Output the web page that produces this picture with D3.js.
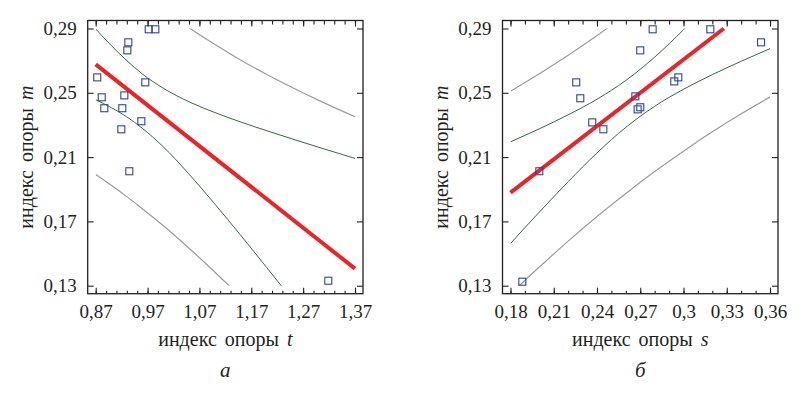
<!DOCTYPE html>
<html>
<head>
<meta charset="utf-8">
<script src="https://cdn.jsdelivr.net/npm/d3@7"></script>
<style>
  body { margin: 0; background: #fff; }
  svg { display: block; }
</style>
</head>
<body>
<div id="chart"></div>
<script>
// ---- data: panel "а" (index t vs index m) ----
const pointsT = [0.873, 0.8816, 0.8866, 0.9194, 0.9213, 0.9252, 0.931, 0.9329, 0.9348, 0.958, 0.9656, 0.9722, 0.985, 1.3185];
const pointsTM = [0.2596, 0.2472, 0.2404, 0.2273, 0.2404, 0.2484, 0.2764, 0.2814, 0.2012, 0.2323, 0.2565, 0.2895, 0.2895, 0.1331];
const fitT = [0.87, 1.37];
const fitTM = [0.2677, 0.1406];
const bandT = [0.87, 0.90, 0.93, 0.96, 1.00, 1.05, 1.10, 1.15, 1.20, 1.25, 1.30, 1.37];
const confUpperT = [0.2897, 0.2794, 0.2700, 0.2617, 0.2529, 0.2444, 0.2377, 0.2318, 0.2264, 0.2212, 0.2161, 0.2092];
const confLowerT = [0.2457, 0.2408, 0.2350, 0.2279, 0.2165, 0.1994, 0.1807, 0.1612, 0.1412, 0.1210, 0.1007, 0.0720];
const predUpperT = [0.3361, 0.3277, 0.3196, 0.3117, 0.3020, 0.2905, 0.2800, 0.2703, 0.2614, 0.2531, 0.2453, 0.2351];
const predLowerT = [0.1993, 0.1925, 0.1854, 0.1779, 0.1674, 0.1533, 0.1384, 0.1227, 0.1062, 0.0891, 0.0715, 0.0461];
const ticksT = [0.87, 0.97, 1.07, 1.17, 1.27, 1.37];
const tickLabelsT = ["0,87", "0,97", "1,07", "1,17", "1,27", "1,37"];

// ---- data: panel "б" (index s vs index m) ----
const pointsS = [0.1882, 0.2000, 0.2256, 0.2284, 0.2367, 0.2444, 0.2666, 0.2682, 0.2700, 0.2700, 0.2786, 0.2936, 0.2964, 0.3186, 0.3538];
const pointsSM = [0.1325, 0.2012, 0.2565, 0.2466, 0.2316, 0.2273, 0.2478, 0.2397, 0.2410, 0.2764, 0.2895, 0.2571, 0.2596, 0.2895, 0.2814];
const fitS = [0.18, 0.328];
const fitSM = [0.1879, 0.29];
const bandS = [0.18, 0.20, 0.22, 0.24, 0.26, 0.28, 0.30, 0.32, 0.34, 0.36];
const confUpperS = [0.2195, 0.2276, 0.2363, 0.2460, 0.2577, 0.2722, 0.2892, 0.3077, 0.3270, 0.3467];
const confLowerS = [0.1563, 0.1758, 0.1947, 0.2126, 0.2285, 0.2416, 0.2522, 0.2613, 0.2696, 0.2775];
const predUpperS = [0.2509, 0.2618, 0.2733, 0.2856, 0.2988, 0.3128, 0.3277, 0.3433, 0.3597, 0.3768];
const predLowerS = [0.1249, 0.1416, 0.1577, 0.1730, 0.1874, 0.2010, 0.2137, 0.2257, 0.2369, 0.2474];
const ticksS = [0.18, 0.21, 0.24, 0.27, 0.30, 0.33, 0.36];
const tickLabelsS = ["0,18", "0,21", "0,24", "0,27", "0,3", "0,33", "0,36"];

// ---- shared y axis ----
const ticksM = [0.13, 0.17, 0.21, 0.25, 0.29];
const tickLabelsM = ["0,13", "0,17", "0,21", "0,25", "0,29"];

const width = 801, height = 397;
const textColor = "#231f20";
const serif = "Liberation Serif";

const svg = d3.select("#chart")
  .append("svg")
    .attr("width", width)
    .attr("height", height);

function drawPanel(p) {
    const x = d3.scaleLinear().domain(p.xDomain).range(p.xRange);
    const y = d3.scaleLinear().domain([0.13, 0.29]).range([285.7, 28.5]);
    const pad = 8;
    const left = p.xRange[0] - pad, right = p.xRange[1] + pad;
    const top = y(0.29) - pad, bottom = y(0.13) + pad;

    const g = svg.append("g");

    // clip to the data area
    g.append("clipPath")
        .attr("id", p.id + "-clip")
      .append("rect")
        .attr("x", x(p.xDomain[0]))
        .attr("y", y(0.29))
        .attr("width", x(p.xDomain[1]) - x(p.xDomain[0]))
        .attr("height", y(0.13) - y(0.29));

    const plot = g.append("g").attr("clip-path", `url(#${p.id}-clip)`);

    const curve = d3.line()
      .x(d => x(d[0]))
      .y(d => y(d[1]))
      .curve(d3.curveMonotoneX);

    // prediction bands (gray)
    [p.predUpper, p.predLower].forEach(vals => {
        plot.append("path")
          .datum(p.bandX.map((v, i) => [v, vals[i]]))
          .attr("fill", "none")
          .attr("stroke", "#9b9b9b")
          .attr("stroke-width", 1.2)
          .attr("d", curve);
    });

    // confidence bands (green)
    [p.confUpper, p.confLower].forEach(vals => {
        plot.append("path")
          .datum(p.bandX.map((v, i) => [v, vals[i]]))
          .attr("fill", "none")
          .attr("stroke", "#2f6a3b")
          .attr("stroke-width", 1)
          .attr("d", curve);
    });

    // regression line
    g.append("line")
        .attr("x1", x(p.fitX[0]))
        .attr("y1", y(p.fitY[0]))
        .attr("x2", x(p.fitX[1]))
        .attr("y2", y(p.fitY[1]))
        .attr("stroke", "#e8262a")
        .attr("stroke-width", 4);

    // data points
    g.selectAll(".pt")
      .data(p.px.map((v, i) => [v, p.py[i]]))
      .enter().append("rect")
        .attr("class", "pt")
        .attr("x", d => x(d[0]) - 3.5)
        .attr("y", d => y(d[1]) - 3.5)
        .attr("width", 7)
        .attr("height", 7)
        .attr("fill", "none")
        .attr("stroke", "#2e44a0")
        .attr("stroke-width", 1.1);

    // frame
    g.append("rect")
        .attr("x", left)
        .attr("y", top)
        .attr("width", right - left)
        .attr("height", bottom - top)
        .attr("fill", "none")
        .attr("stroke", textColor)
        .attr("stroke-width", 1.3);

    const minor = d3.range(p.xDomain[0], p.xDomain[1] + p.minorStep / 2, p.minorStep);

    const styleAxis = sel => {
        sel.select(".domain").remove();
        sel.attr("color", textColor)
           .attr("font-family", serif)
           .attr("font-size", 19);
        sel.selectAll("line").attr("stroke-width", 1.1);
    };

    // bottom axis
    g.append("g")
      .attr("transform", `translate(0,${bottom})`)
      .call(d3.axisBottom(x).tickValues(minor).tickFormat("").tickSizeInner(-3).tickSizeOuter(0))
      .call(styleAxis);
    g.append("g")
      .attr("transform", `translate(0,${bottom})`)
      .call(d3.axisBottom(x).tickValues(p.ticks).tickFormat((d, i) => p.tickLabels[i])
        .tickSizeInner(-6).tickSizeOuter(0).tickPadding(11))
      .call(styleAxis);

    // top axis (mirror)
    g.append("g")
      .attr("transform", `translate(0,${top})`)
      .call(d3.axisTop(x).tickValues(minor).tickFormat("").tickSizeInner(-4).tickSizeOuter(0))
      .call(styleAxis);
    g.append("g")
      .attr("transform", `translate(0,${top})`)
      .call(d3.axisTop(x).tickValues(p.ticks).tickFormat("").tickSizeInner(-6).tickSizeOuter(0))
      .call(styleAxis);

    // left axis
    g.append("g")
      .attr("transform", `translate(${left},0)`)
      .call(d3.axisLeft(y).tickValues(ticksM).tickFormat((d, i) => tickLabelsM[i])
        .tickSizeInner(-6).tickSizeOuter(0).tickPadding(11))
      .call(styleAxis);

    // right axis (mirror)
    g.append("g")
      .attr("transform", `translate(${right},0)`)
      .call(d3.axisRight(y).tickValues(ticksM).tickFormat("").tickSizeInner(-6).tickSizeOuter(0))
      .call(styleAxis);

    const cx = (left + right) / 2;

    // x-axis label
    const xl = g.append("text")
        .attr("x", cx)
        .attr("y", 346)
        .attr("text-anchor", "middle")
        .attr("font-family", serif)
        .attr("font-size", 20)
        .attr("fill", textColor)
        .attr("word-spacing", 3)
        .text("индекс опоры ");
    xl.append("tspan").attr("font-style", "italic").text(p.xVar);

    // y-axis label
    const yl = g.append("text")
        .attr("transform", `translate(${left - 55},${(top + bottom) / 2}) rotate(-90)`)
        .attr("text-anchor", "middle")
        .attr("font-family", serif)
        .attr("font-size", 20)
        .attr("fill", textColor)
        .attr("word-spacing", 3)
        .text("индекс опоры ");
    yl.append("tspan").attr("font-style", "italic").text("m");

    // panel letter
    g.append("text")
        .attr("x", cx)
        .attr("y", 377)
        .attr("text-anchor", "middle")
        .attr("font-family", serif)
        .attr("font-style", "italic")
        .attr("font-size", 21)
        .attr("fill", textColor)
        .text(p.letter);
}

drawPanel({
    id: "pa", letter: "а", xVar: "t",
    xDomain: [0.87, 1.37], xRange: [95.7, 355], minorStep: 0.02,
    ticks: ticksT, tickLabels: tickLabelsT,
    px: pointsT, py: pointsTM, fitX: fitT, fitY: fitTM,
    bandX: bandT, confUpper: confUpperT, confLower: confLowerT,
    predUpper: predUpperT, predLower: predLowerT
});

drawPanel({
    id: "pb", letter: "б", xVar: "s",
    xDomain: [0.18, 0.36], xRange: [510.5, 770], minorStep: 0.01,
    ticks: ticksS, tickLabels: tickLabelsS,
    px: pointsS, py: pointsSM, fitX: fitS, fitY: fitSM,
    bandX: bandS, confUpper: confUpperS, confLower: confLowerS,
    predUpper: predUpperS, predLower: predLowerS
});
</script>
</body>
</html>
